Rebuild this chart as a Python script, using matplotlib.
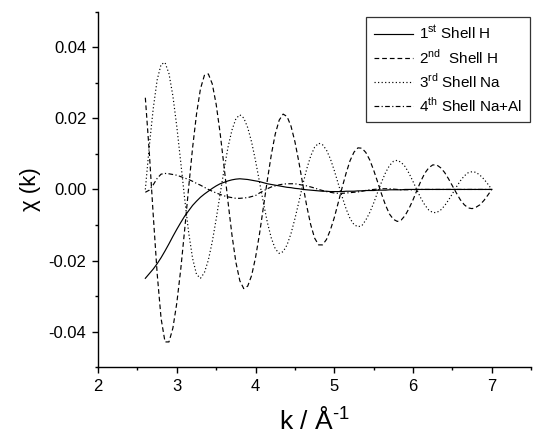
import numpy as np
import matplotlib.pyplot as plt
from matplotlib.ticker import MultipleLocator

plt.rcParams["font.family"] = ["Liberation Sans", "DejaVu Sans"]
plt.rcParams["axes.unicode_minus"] = False
plt.rcParams["mathtext.fontset"] = "custom"
plt.rcParams["mathtext.rm"] = "Liberation Sans"

# k grid, 2.60 .. 7.00 in steps of 0.05
k = np.round(np.arange(2.60, 7.0001, 0.05), 2)

shell1_h = [
    -0.0250, -0.0237, -0.0224, -0.0209, -0.0192, -0.0173, -0.0153, -0.0132,
    -0.0112, -0.0093, -0.0075, -0.0060, -0.0045, -0.0033, -0.0022, -0.0013,
    -0.0005, 0.0003, 0.0010, 0.0016, 0.0020, 0.0024, 0.0027, 0.0029,
    0.0030, 0.0029, 0.0028, 0.0026, 0.0024, 0.0022, 0.0019, 0.0016,
    0.0014, 0.0012, 0.0010, 0.0008, 0.0006, 0.0005, 0.0003, 0.0002,
    0.0000, -0.0001, -0.0002, -0.0003, -0.0004, -0.0005, -0.0005, -0.0006,
    -0.0006, -0.0006, -0.0006, -0.0005, -0.0005, -0.0005, -0.0004, -0.0004,
    -0.0003, -0.0003, -0.0003, -0.0002, -0.0002, -0.0002, -0.0001, -0.0001,
    -0.0001, -0.0001, 0.0000, 0.0000, 0.0000, 0.0000, 0.0000, 0.0000,
    0.0000, 0.0000, 0.0000, 0.0000, 0.0000, 0.0000, 0.0000, 0.0000,
    0.0000, 0.0000, 0.0000, 0.0000, 0.0000, 0.0000, 0.0000, 0.0000,
    0.0000,
]

shell2_h = [
    0.0258, 0.0105, -0.0071, -0.0236, -0.0363, -0.0429, -0.0429, -0.0390,
    -0.0319, -0.0224, -0.0112, 0.0005, 0.0117, 0.0212, 0.0283, 0.0321,
    0.0325, 0.0297, 0.0239, 0.0158, 0.0064, -0.0035, -0.0128, -0.0205,
    -0.0257, -0.0279, -0.0272, -0.0242, -0.0191, -0.0125, -0.0049, 0.0027,
    0.0098, 0.0156, 0.0195, 0.0212, 0.0205, 0.0178, 0.0134, 0.0077,
    0.0014, -0.0047, -0.0099, -0.0137, -0.0156, -0.0156, -0.0141, -0.0114,
    -0.0079, -0.0037, 0.0006, 0.0046, 0.0081, 0.0105, 0.0117, 0.0116,
    0.0104, 0.0083, 0.0054, 0.0021, -0.0013, -0.0044, -0.0069, -0.0084,
    -0.0090, -0.0086, -0.0073, -0.0053, -0.0029, -0.0002, 0.0024, 0.0046,
    0.0061, 0.0069, 0.0069, 0.0061, 0.0048, 0.0030, 0.0010, -0.0010,
    -0.0029, -0.0043, -0.0052, -0.0054, -0.0050, -0.0043, -0.0031, -0.0016,
    0.0000,
]

shell3_na = [
    0.0000, 0.0121, 0.0227, 0.0308, 0.0352, 0.0357, 0.0326, 0.0263,
    0.0176, 0.0076, -0.0027, -0.0121, -0.0194, -0.0239, -0.0250, -0.0234,
    -0.0199, -0.0147, -0.0083, -0.0013, 0.0056, 0.0119, 0.0167, 0.0199,
    0.0210, 0.0201, 0.0174, 0.0133, 0.0080, 0.0021, -0.0038, -0.0093,
    -0.0137, -0.0167, -0.0180, -0.0175, -0.0156, -0.0124, -0.0082, -0.0035,
    0.0014, 0.0058, 0.0094, 0.0119, 0.0130, 0.0126, 0.0111, 0.0086,
    0.0053, 0.0016, -0.0021, -0.0055, -0.0082, -0.0099, -0.0105, -0.0102,
    -0.0086, -0.0065, -0.0038, -0.0008, 0.0021, 0.0047, 0.0067, 0.0079,
    0.0082, 0.0076, 0.0064, 0.0045, 0.0022, -0.0002, -0.0025, -0.0044,
    -0.0058, -0.0065, -0.0065, -0.0058, -0.0046, -0.0030, -0.0012, 0.0007,
    0.0024, 0.0038, 0.0047, 0.0050, 0.0048, 0.0040, 0.0029, 0.0015,
    0.0000,
]

shell4_naal = [
    -0.0008, -0.0002, 0.0013, 0.0031, 0.0043, 0.0045, 0.0044, 0.0042,
    0.0040, 0.0036, 0.0032, 0.0028, 0.0023, 0.0017, 0.0012, 0.0006,
    0.0000, -0.0005, -0.0010, -0.0014, -0.0018, -0.0021, -0.0023, -0.0025,
    -0.0025, -0.0024, -0.0023, -0.0020, -0.0017, -0.0010, -0.0004, 0.0002,
    0.0007, 0.0010, 0.0013, 0.0015, 0.0016, 0.0016, 0.0016, 0.0014,
    0.0012, 0.0010, 0.0007, 0.0004, 0.0000, -0.0003, -0.0006, -0.0008,
    -0.0010, -0.0011, -0.0011, -0.0010, -0.0009, -0.0008, -0.0007, -0.0005,
    -0.0003, -0.0001, 0.0000, 0.0001, 0.0002, 0.0002, 0.0002, 0.0001,
    0.0000, -0.0001, -0.0001, -0.0001, -0.0001, 0.0000, 0.0000, 0.0000,
    0.0000, 0.0000, 0.0000, 0.0000, 0.0000, 0.0000, 0.0000, 0.0000,
    0.0000, 0.0000, 0.0000, 0.0000, 0.0000, 0.0000, 0.0000, 0.0000,
    0.0000,
]

labels = [
    r"1$^{\mathrm{st}}$ Shell H",
    r"2$^{\mathrm{nd}}$  Shell H",
    r"3$^{\mathrm{rd}}$ Shell Na",
    r"4$^{\mathrm{th}}$ Shell Na+Al",
]
styles = ["-", (0, (4, 2.5)), (0, (1, 2)), (0, (4, 2, 1, 2))]

fig = plt.figure(figsize=(5.36, 4.34), dpi=100)
ax = fig.add_axes([0.183, 0.154, 0.808, 0.819])

for y, lab, ls in zip([shell1_h, shell2_h, shell3_na, shell4_naal], labels, styles):
    ax.plot(k, y, color="black", lw=0.85, ls=ls, label=lab)

ax.set_xlim(2, 7.5)
ax.set_ylim(-0.05, 0.05)
ax.xaxis.set_major_locator(MultipleLocator(1))
ax.xaxis.set_minor_locator(MultipleLocator(0.5))
ax.yaxis.set_major_locator(MultipleLocator(0.02))
ax.yaxis.set_minor_locator(MultipleLocator(0.01))
ax.yaxis.set_major_formatter(lambda v, p: f"{v:.2f}")

for side in ("top", "right"):
    ax.spines[side].set_visible(False)
for side in ("left", "bottom"):
    ax.spines[side].set_linewidth(1.0)
ax.tick_params(which="major", direction="out", length=4.5, width=1.0,
               labelsize=12, pad=4)
ax.tick_params(which="minor", direction="out", length=2.5, width=1.0)

ax.set_xlabel(r"k / Å$^{\text{-}1}$", fontsize=19, labelpad=9)
ax.set_ylabel(r"χ (k)", fontsize=16, labelpad=5)

leg = ax.legend(loc="upper right", bbox_to_anchor=(1.0, 0.99), fontsize=11,
                frameon=True, fancybox=False, handlelength=2.6,
                handletextpad=0.35, labelspacing=0.35, borderpad=0.5,
                borderaxespad=0.1)
leg.get_frame().set_edgecolor("black")
leg.get_frame().set_linewidth(0.9)

fig.savefig("out.png", dpi=100)
